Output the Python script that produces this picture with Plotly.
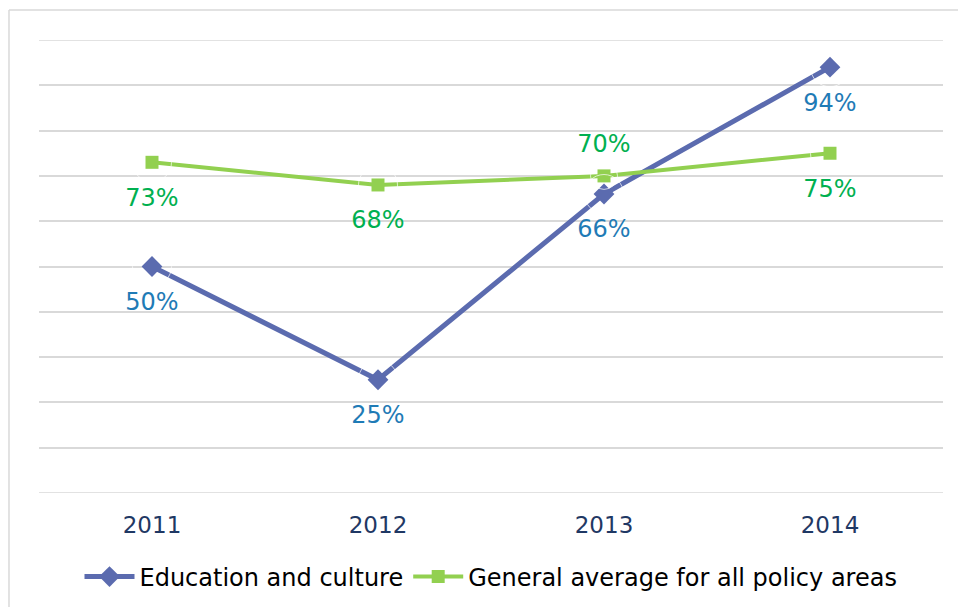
import plotly.graph_objects as go

years = ["2011", "2012", "2013", "2014"]
education = [50, 25, 66, 94]
general = [73, 68, 70, 75]
edu_label_pos = ["bottom center", "bottom center", "bottom center", "bottom center"]
gen_label_pos = ["bottom center", "bottom center", "top center", "bottom center"]

EDU_COLOR = "#5B6BAF"
GEN_COLOR = "#92D050"
EDU_TEXT = "#1F7BB6"
GEN_TEXT = "#00B050"
FONT = "DejaVu Sans"
FS = 23
LABEL_FS = 24

fig = go.Figure()
fig.add_trace(go.Scatter(
    x=years, y=education, name="Education and culture", mode="lines+markers",
    line=dict(color=EDU_COLOR, width=5),
    marker=dict(symbol="diamond", size=16, color=EDU_COLOR),
    hoverinfo="skip",
))
fig.add_trace(go.Scatter(
    x=years, y=general, name="General average for all policy areas", mode="lines+markers",
    line=dict(color=GEN_COLOR, width=4),
    marker=dict(symbol="square", size=13, color=GEN_COLOR),
    hoverinfo="skip",
))

for ys, pos, col in [(education, edu_label_pos, EDU_TEXT), (general, gen_label_pos, GEN_TEXT)]:
    fig.add_trace(go.Scatter(
        x=years, y=ys, mode="markers+text", text=[f"{v}%" for v in ys],
        textposition=pos, textfont=dict(family=FONT, size=LABEL_FS, color=col),
        marker=dict(size=[39 if p.startswith("bottom") else 27 for p in pos],
                    color="rgba(0,0,0,0)"),
        showlegend=False, hoverinfo="skip", cliponaxis=False,
    ))

fig.update_layout(
    width=958, height=607,
    margin=dict(l=39, r=15, t=40, b=114),
    paper_bgcolor="white", plot_bgcolor="white",
    font=dict(family=FONT),
    showlegend=True,
    legend=dict(orientation="h", x=0.5, xanchor="center",
                yref="container", y=0.0494, yanchor="middle",
                font=dict(family=FONT, size=24, color="black"),
                itemwidth=50, tracegroupgap=0),
    xaxis=dict(type="category", range=[-0.5, 3.5], showgrid=False, zeroline=False,
               showline=False, ticks="", ticklabelstandoff=16,
               tickfont=dict(family=FONT, size=FS, color="#1F3864")),
    yaxis=dict(range=[0, 100], tickvals=[10, 20, 30, 40, 50, 60, 70, 80, 90],
               showticklabels=False, showgrid=True,
               gridcolor="#D9D9D9", gridwidth=1.5, zeroline=False, showline=False),
    shapes=[
        dict(type="line", xref="paper", yref="paper", x0=-0.0332, x1=1.1, y0=1.0662, y1=1.0662,
             line=dict(color="#D9D9D9", width=1.5)),
        dict(type="line", xref="paper", yref="paper", x0=-0.0332, x1=-0.0332, y0=1.0662, y1=-0.4,
             line=dict(color="#D9D9D9", width=1.5)),
        dict(type="line", xref="paper", yref="y", x0=0, x1=1, y0=0, y1=0,
             line=dict(color="#D9D9D9", width=1.5), layer="below"),
        dict(type="line", xref="paper", yref="y", x0=0, x1=1, y0=100, y1=100,
             line=dict(color="#D9D9D9", width=1.5), layer="below"),
    ],
)

fig.write_html("out.html", config={"displayModeBar": False},
               post_script="document.body.style.margin='0';")
